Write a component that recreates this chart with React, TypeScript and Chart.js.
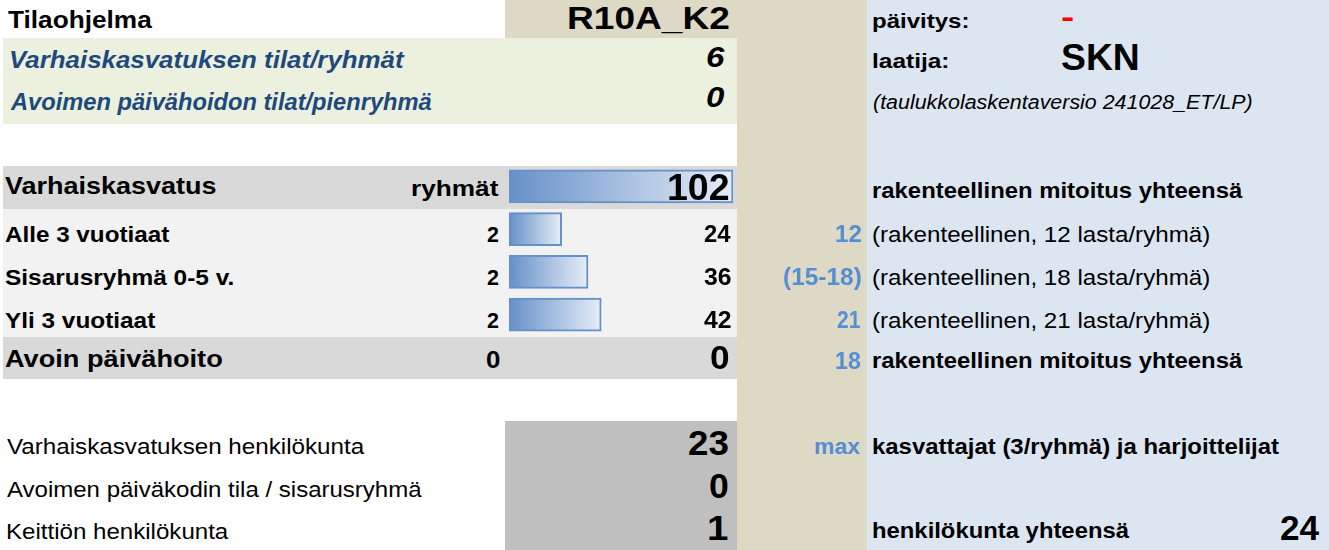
import React, { useEffect, useRef } from 'react';
import { Chart, registerables } from 'chart.js';

Chart.register(...registerables);

const FONT = '"Liberation Sans", Arial, Helvetica, sans-serif';

// ---------- data ----------
const programCode = 'R10A_K2';
const updatedMark = '-';
const author = 'SKN';
const versionNote = '(taulukkolaskentaversio 241028_ET/LP)';
const ekGroupRooms = 6;
const apGroupRooms = 0;

const barLabels = ['Varhaiskasvatus', 'Alle 3 vuotiaat', 'Sisarusryhmä 0-5 v.', 'Yli 3 vuotiaat'];
const barValues = [102, 24, 36, 42];

const ageGroups = ['Alle 3 vuotiaat', 'Sisarusryhmä 0-5 v.', 'Yli 3 vuotiaat'];
const groupCounts = [2, 2, 2];
const childCounts = [24, 36, 42];
const groupSizes = ['12', '(15-18)', '21'];
const sizeNotes = [
  '(rakenteellinen, 12 lasta/ryhmä)',
  '(rakenteellinen, 18 lasta/ryhmä)',
  '(rakenteellinen, 21 lasta/ryhmä)',
];

const openCareGroups = 0;
const openCareChildren = 0;
const openCareSize = 18;

const staffLabels = [
  'Varhaiskasvatuksen henkilökunta',
  'Avoimen päiväkodin tila / sisarusryhmä',
  'Keittiön henkilökunta',
];
const staffCounts = [23, 0, 1];
const staffTotal = 24;

// ---------- layout ----------
const BLUE_HEAD = '#1F497D';
const BLUE_NUM = '#558ED5';

const RECTS: [number, number, number, number, string][] = [
  [505, 0, 362, 38, '#DDD9C4'],
  [737, 0, 130, 550, '#DDD9C4'],
  [867, 0, 462, 550, '#DCE6F1'],
  [3, 38, 734, 86, '#EBF1DE'],
  [3, 166, 734, 43, '#D9D9D9'],
  [3, 209, 734, 128, '#F2F2F2'],
  [3, 337, 734, 42, '#D9D9D9'],
  [505, 421, 232, 129, '#BFBFBF'],
];

const rowY = [242.8, 285.5, 328];
const ageLabelW = [165, 228, 151];
const groupSizeW = [25, 77, 23.6];
const staffY = [454.3, 497, 539];
const staffLabelW = [358, 415.4, 222];
const staffNumW: (number | null)[] = [39.3, 18.3, null];

type Item = {
  t: string; x: number; y: number; s: number;
  a?: 'l' | 'r'; w?: number | null; b?: boolean; i?: boolean; c?: string;
};

const ITEMS: Item[] = [
  { t: 'Tilaohjelma', x: 8, y: 28, s: 23, w: 144, b: true },
  { t: programCode, x: 728, a: 'r', y: 28.6, s: 31, w: 159, b: true },
  { t: 'päivitys:', x: 873, y: 28.3, s: 21, w: 94, b: true },
  { t: updatedMark, x: 1062, y: 27.5, s: 30, w: 10.6, b: true, c: '#FF0000' },
  { t: 'Varhaiskasvatuksen tilat/ryhmät', x: 10, y: 68, s: 23, w: 395, b: true, i: true, c: BLUE_HEAD },
  { t: String(ekGroupRooms), x: 724.3, a: 'r', y: 67, s: 30, w: 17.6, b: true, i: true },
  { t: 'laatija:', x: 873, y: 68.3, s: 21, w: 74, b: true },
  { t: author, x: 1062, y: 70, s: 37, w: 76, b: true },
  { t: 'Avoimen päivähoidon tilat/pienryhmä', x: 10, y: 110, s: 23, w: 422, b: true, i: true, c: BLUE_HEAD },
  { t: String(apGroupRooms), x: 724.3, a: 'r', y: 107.3, s: 30, w: 17.6, b: true, i: true },
  { t: versionNote, x: 873, y: 109, s: 20, w: 379, i: true },

  { t: barLabels[0], x: 5, y: 194, s: 24, w: 211, b: true },
  { t: 'ryhmät', x: 499, a: 'r', y: 196, s: 22, w: 87, b: true },
  { t: String(barValues[0]), x: 729, a: 'r', y: 199.5, s: 37, w: 60, b: true },
  { t: 'rakenteellinen mitoitus yhteensä', x: 872.7, y: 198, s: 22, w: 370, b: true },

  ...ageGroups.flatMap((g, k): Item[] => [
    { t: g, x: 5, y: rowY[k], s: 22, w: ageLabelW[k], b: true },
    { t: String(groupCounts[k]), x: 499, a: 'r', y: rowY[k], s: 22, w: 11.7, b: true },
    { t: String(childCounts[k]), x: 731, a: 'r', y: rowY[k], s: 23, w: 26.7, b: true },
    { t: groupSizes[k], x: 860.7, a: 'r', y: rowY[k], s: 23, w: groupSizeW[k], b: true, c: BLUE_NUM },
    { t: sizeNotes[k], x: 872.7, y: rowY[k], s: 22, w: 335.7 },
  ]),

  { t: 'Avoin päivähoito', x: 5, y: 367, s: 24, w: 217, b: true },
  { t: String(openCareGroups), x: 499, a: 'r', y: 368, s: 23, w: 13.5, b: true },
  { t: String(openCareChildren), x: 728.3, a: 'r', y: 369, s: 34, w: 17.6, b: true },
  { t: String(openCareSize), x: 860.7, a: 'r', y: 369, s: 23, w: 25, b: true, c: BLUE_NUM },
  { t: 'rakenteellinen mitoitus yhteensä', x: 872.7, y: 368, s: 22, w: 370, b: true },

  ...staffLabels.flatMap((l, k): Item[] => [
    { t: l, x: 7.3, y: staffY[k], s: 22, w: staffLabelW[k] },
    { t: String(staffCounts[k]), x: 728.3, a: 'r', y: staffY[k] + 0.5, s: 35, w: staffNumW[k], b: true },
  ]),
  { t: 'max', x: 860.7, a: 'r', y: 454, s: 22, w: 45.7, b: true, c: BLUE_NUM },
  { t: 'kasvattajat (3/ryhmä) ja harjoittelijat', x: 872.7, y: 454.3, s: 22, w: 406.7, b: true },
  { t: 'henkilökunta yhteensä', x: 872.7, y: 538.3, s: 22, w: 256.7, b: true },
  { t: String(staffTotal), x: 1319.3, a: 'r', y: 540, s: 35, w: 38.7, b: true },
];

let measureCtx: CanvasRenderingContext2D | null = null;
function getCtx() {
  if (!measureCtx) measureCtx = document.createElement('canvas').getContext('2d');
  return measureCtx!;
}

function TextItem({ it }: { it: Item }) {
  const style = it.i ? 'italic' : 'normal';
  const weight = it.b ? 'bold' : 'normal';
  const ctx = getCtx();
  ctx.font = `${style} ${weight} ${it.s}px ${FONT}`;
  const m = ctx.measureText(it.t);
  const inkL = m.actualBoundingBoxLeft;
  const inkR = m.actualBoundingBoxRight;
  const natural = inkL + inkR;
  const sx = it.w ? it.w / natural : 1.1;
  const left = it.a === 'r' ? it.x - sx * inkR : it.x + sx * inkL;
  const asc = (m as any).fontBoundingBoxAscent ?? it.s * 0.905;
  const desc = (m as any).fontBoundingBoxDescent ?? it.s * 0.212;
  // tight line box: baseline sits at (L - (asc+desc))/2 + asc from the top
  const L = it.s;
  const baseOff = (L - (asc + desc)) / 2 + asc;
  return (
    <div
      style={{
        position: 'absolute',
        left,
        top: it.y - baseOff,
        fontFamily: FONT,
        fontSize: it.s,
        fontWeight: weight as any,
        fontStyle: style,
        lineHeight: `${L}px`,
        height: L,
        whiteSpace: 'pre',
        color: it.c || '#000',
        transform: `scaleX(${sx})`,
        transformOrigin: '0 0',
        zIndex: 3,
      }}
    >
      {it.t}
    </div>
  );
}

export default function App() {
  const ref = useRef<HTMLCanvasElement>(null);

  useEffect(() => {
    if (!ref.current) return;
    const chart = new Chart(ref.current, {
      type: 'bar',
      data: {
        labels: barLabels,
        datasets: [
          {
            data: barValues,
            backgroundColor: (c: any) => {
              const ch = c.chart;
              if (!ch.chartArea || c.raw == null) return '#6690C8';
              const x0 = ch.scales.x.getPixelForValue(0);
              const x1 = ch.scales.x.getPixelForValue(c.raw);
              const g = ch.ctx.createLinearGradient(x0, 0, x1, 0);
              g.addColorStop(0, '#6690C8');
              g.addColorStop(1, '#E6EDF7');
              return g;
            },
            borderColor: '#6690C8',
            borderWidth: 2,
            borderSkipped: false,
            barThickness: 33,
          },
        ],
      },
      options: {
        indexAxis: 'y',
        responsive: false,
        animation: false,
        devicePixelRatio: 1,
        events: [],
        layout: { padding: 0 },
        plugins: { legend: { display: false }, tooltip: { enabled: false } },
        scales: {
          x: { display: false, min: 0, max: Math.max(...barValues) },
          y: { display: false },
        },
      },
    });
    return () => chart.destroy();
  }, []);

  return (
    <div
      style={{
        position: 'fixed',
        left: 0,
        top: 0,
        width: 1329,
        height: 550,
        overflow: 'hidden',
        background: '#FFFFFF',
      }}
    >
      {RECTS.map(([x, y, w, h, c], k) => (
        <div key={'r' + k} style={{ position: 'absolute', left: x, top: y, width: w, height: h, background: c }} />
      ))}
      <canvas
        ref={ref}
        width={224}
        height={171}
        style={{ position: 'absolute', left: 509, top: 165, width: 224, height: 171, zIndex: 2 }}
      />
      {ITEMS.map((it, k) => (
        <TextItem key={'t' + k} it={it} />
      ))}
    </div>
  );
}
